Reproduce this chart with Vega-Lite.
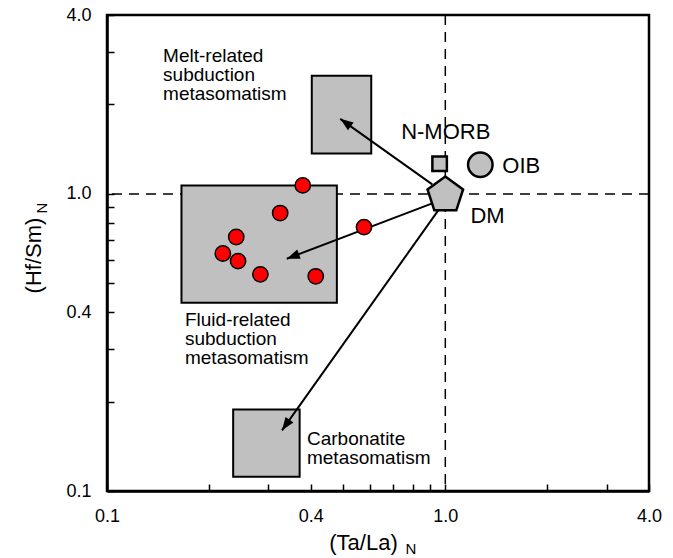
{
  "$schema": "https://vega.github.io/schema/vega-lite/v6.json",
  "width": 542,
  "height": 476,
  "autosize": "none",
  "padding": {"left": 107, "top": 15, "right": 24, "bottom": 67},
  "background": "white",
  "config": {
    "font": "Liberation Sans",
    "view": {"stroke": "black", "strokeWidth": 2.5},
    "axis": {
      "grid": false,
      "domainColor": "black",
      "domainWidth": 2.5,
      "tickColor": "black",
      "tickWidth": 1.5,
      "labelFont": "Liberation Sans",
      "titleFont": "Liberation Sans",
      "labelColor": "black",
      "titleColor": "black",
      "titleFontWeight": "normal",
      "labelFontSize": 18,
      "titleFontSize": 22
    },
    "text": {"font": "Liberation Sans", "color": "black"}
  },
  "datasets": {
    "unity": [{"ratio": 1}],
    "fields": [
      {"field": "Melt-related subduction metasomatism", "x1": 0.403, "x2": 0.604, "y1": 1.368, "y2": 2.5},
      {"field": "Fluid-related subduction metasomatism", "x1": 0.166, "x2": 0.478, "y1": 0.43, "y2": 1.068},
      {"field": "Carbonatite metasomatism", "x1": 0.236, "x2": 0.371, "y1": 0.1117, "y2": 0.188}
    ],
    "trends": [
      {"trend": "melt", "x": 0.915, "y": 1.076, "x2": 0.489, "y2": 1.789},
      {"trend": "fluid", "x": 0.915, "y": 0.929, "x2": 0.34, "y2": 0.605},
      {"trend": "carbonatite", "x": 0.953, "y": 0.88, "x2": 0.329, "y2": 0.16}
    ],
    "samples": [
      {"tala": 0.379, "hfsm": 1.068},
      {"tala": 0.325, "hfsm": 0.862},
      {"tala": 0.241, "hfsm": 0.716},
      {"tala": 0.22, "hfsm": 0.63},
      {"tala": 0.244, "hfsm": 0.594},
      {"tala": 0.284, "hfsm": 0.536},
      {"tala": 0.414, "hfsm": 0.528},
      {"tala": 0.575, "hfsm": 0.773}
    ],
    "reservoirs": [
      {"name": "N-MORB", "tala": 0.962, "hfsm": 1.263},
      {"name": "OIB", "tala": 1.269, "hfsm": 1.253},
      {"name": "DM", "tala": 1.0, "hfsm": 0.99}
    ],
    "fieldLabels": [
      {"label": "Melt-related\nsubduction\nmetasomatism", "x": 0.1465, "y": 2.789},
      {"label": "Fluid-related\nsubduction\nmetasomatism", "x": 0.17, "y": 0.3586},
      {"label": "Carbonatite\nmetasomatism", "x": 0.39, "y": 0.1428}
    ],
    "reservoirLabels": [
      {"label": "N-MORB", "x": 1.003, "y": 1.525, "anchor": "center"},
      {"label": "OIB", "x": 1.474, "y": 1.172, "anchor": "left"},
      {"label": "DM", "x": 1.186, "y": 0.796, "anchor": "left"}
    ]
  },
  "resolve": {"axis": {"x": "independent", "y": "independent"}},
  "layer": [
    {
      "data": {"name": "unity"},
      "mark": {"type": "rule", "color": "black", "strokeWidth": 1.5, "strokeDash": [10, 7]},
      "encoding": {
        "y": {"field": "ratio", "type": "quantitative", "scale": {"type": "log", "domain": [0.1, 4], "nice": false}, "axis": null}
      }
    },
    {
      "data": {"name": "unity"},
      "mark": {"type": "rule", "color": "black", "strokeWidth": 1.5, "strokeDash": [10, 7]},
      "encoding": {
        "x": {"field": "ratio", "type": "quantitative", "scale": {"type": "log", "domain": [0.1, 4], "nice": false}, "axis": null}
      }
    },
    {
      "data": {"name": "fields"},
      "mark": {"type": "rect", "fill": "#c0c0c0", "stroke": "black", "strokeWidth": 2},
      "encoding": {
        "x": {
          "field": "x1", "type": "quantitative",
          "scale": {"type": "log", "domain": [0.1, 4], "nice": false},
          "axis": {
            "orient": "bottom",
            "values": [0.1, 0.2, 0.3, 0.4, 0.5, 0.6, 0.7, 0.8, 0.9, 1, 2, 3, 4],
            "labelExpr": "indexof([0.1, 0.4, 1, 4], datum.value) >= 0 ? format(datum.value, '.1f') : ''",
            "tickSize": -7,
            "labelPadding": 23,
            "labelFlush": false,
            "labelOverlap": false,
            "title": "(Ta/La)",
            "titleX": 256,
            "titleY": 58,
            "titleAlign": "center",
            "titleBaseline": "alphabetic"
          }
        },
        "x2": {"field": "x2"},
        "y": {
          "field": "y1", "type": "quantitative",
          "scale": {"type": "log", "domain": [0.1, 4], "nice": false},
          "axis": {
            "orient": "left",
            "values": [0.1, 0.2, 0.3, 0.4, 0.5, 0.6, 0.7, 0.8, 0.9, 1, 2, 3, 4],
            "labelExpr": "indexof([0.1, 0.4, 1, 4], datum.value) >= 0 ? format(datum.value, '.1f') : ''",
            "tickSize": -7,
            "labelPadding": 23,
            "labelFlush": false,
            "labelOverlap": false,
            "title": "(Hf/Sm)",
            "titleX": -67,
            "titleY": 240,
            "titleAngle": 270,
            "titleAlign": "center",
            "titleBaseline": "alphabetic"
          }
        },
        "y2": {"field": "y2"}
      }
    },
    {
      "data": {"name": "trends"},
      "mark": {"type": "rule", "color": "black", "strokeWidth": 2},
      "encoding": {
        "x": {"field": "x", "type": "quantitative", "scale": {"type": "log", "domain": [0.1, 4], "nice": false}, "axis": null},
        "y": {"field": "y", "type": "quantitative", "scale": {"type": "log", "domain": [0.1, 4], "nice": false}, "axis": null},
        "x2": {"field": "x2"},
        "y2": {"field": "y2"}
      }
    },
    {
      "data": {"name": "trends"},
      "transform": [{"filter": "datum.trend == 'melt'"}],
      "mark": {"type": "point", "shape": "M0,0L-0.75,2L0.75,2Z", "size": 169, "filled": true, "color": "black", "opacity": 1, "angle": 305.5},
      "encoding": {
        "x": {"field": "x2", "type": "quantitative", "scale": {"type": "log", "domain": [0.1, 4], "nice": false}, "axis": null},
        "y": {"field": "y2", "type": "quantitative", "scale": {"type": "log", "domain": [0.1, 4], "nice": false}, "axis": null}
      }
    },
    {
      "data": {"name": "trends"},
      "transform": [{"filter": "datum.trend == 'fluid'"}],
      "mark": {"type": "point", "shape": "M0,0L-0.75,2L0.75,2Z", "size": 169, "filled": true, "color": "black", "opacity": 1, "angle": 249.2},
      "encoding": {
        "x": {"field": "x2", "type": "quantitative", "scale": {"type": "log", "domain": [0.1, 4], "nice": false}, "axis": null},
        "y": {"field": "y2", "type": "quantitative", "scale": {"type": "log", "domain": [0.1, 4], "nice": false}, "axis": null}
      }
    },
    {
      "data": {"name": "trends"},
      "transform": [{"filter": "datum.trend == 'carbonatite'"}],
      "mark": {"type": "point", "shape": "M0,0L-0.75,2L0.75,2Z", "size": 169, "filled": true, "color": "black", "opacity": 1, "angle": 215.4},
      "encoding": {
        "x": {"field": "x2", "type": "quantitative", "scale": {"type": "log", "domain": [0.1, 4], "nice": false}, "axis": null},
        "y": {"field": "y2", "type": "quantitative", "scale": {"type": "log", "domain": [0.1, 4], "nice": false}, "axis": null}
      }
    },
    {
      "data": {"name": "samples"},
      "mark": {"type": "point", "shape": "circle", "size": 235, "filled": true, "fill": "#ff0000", "stroke": "black", "strokeWidth": 1.5, "opacity": 1},
      "encoding": {
        "x": {"field": "tala", "type": "quantitative", "scale": {"type": "log", "domain": [0.1, 4], "nice": false}, "axis": null},
        "y": {"field": "hfsm", "type": "quantitative", "scale": {"type": "log", "domain": [0.1, 4], "nice": false}, "axis": null}
      }
    },
    {
      "data": {"name": "reservoirs"},
      "transform": [{"filter": "datum.name == 'N-MORB'"}],
      "mark": {"type": "point", "shape": "square", "size": 210, "filled": true, "fill": "#c0c0c0", "stroke": "black", "strokeWidth": 2.5, "opacity": 1},
      "encoding": {
        "x": {"field": "tala", "type": "quantitative", "scale": {"type": "log", "domain": [0.1, 4], "nice": false}, "axis": null},
        "y": {"field": "hfsm", "type": "quantitative", "scale": {"type": "log", "domain": [0.1, 4], "nice": false}, "axis": null}
      }
    },
    {
      "data": {"name": "reservoirs"},
      "transform": [{"filter": "datum.name == 'OIB'"}],
      "mark": {"type": "point", "shape": "circle", "size": 600, "filled": true, "fill": "#c0c0c0", "stroke": "black", "strokeWidth": 2.5, "opacity": 1},
      "encoding": {
        "x": {"field": "tala", "type": "quantitative", "scale": {"type": "log", "domain": [0.1, 4], "nice": false}, "axis": null},
        "y": {"field": "hfsm", "type": "quantitative", "scale": {"type": "log", "domain": [0.1, 4], "nice": false}, "axis": null}
      }
    },
    {
      "data": {"name": "reservoirs"},
      "transform": [{"filter": "datum.name == 'DM'"}],
      "mark": {"type": "point", "shape": "M0,-1L0.951,-0.309L0.588,0.809L-0.588,0.809L-0.951,-0.309Z", "size": 1400, "filled": true, "fill": "#c0c0c0", "stroke": "black", "strokeWidth": 2.5, "opacity": 1},
      "encoding": {
        "x": {"field": "tala", "type": "quantitative", "scale": {"type": "log", "domain": [0.1, 4], "nice": false}, "axis": null},
        "y": {"field": "hfsm", "type": "quantitative", "scale": {"type": "log", "domain": [0.1, 4], "nice": false}, "axis": null}
      }
    },
    {
      "data": {"name": "fieldLabels"},
      "mark": {"type": "text", "align": "left", "baseline": "alphabetic", "fontSize": 19, "lineHeight": 19, "lineBreak": "\n"},
      "encoding": {
        "x": {"field": "x", "type": "quantitative", "scale": {"type": "log", "domain": [0.1, 4], "nice": false}, "axis": null},
        "y": {"field": "y", "type": "quantitative", "scale": {"type": "log", "domain": [0.1, 4], "nice": false}, "axis": null},
        "text": {"field": "label"}
      }
    },
    {
      "data": {"name": "reservoirLabels"},
      "transform": [{"filter": "datum.anchor == 'center'"}],
      "mark": {"type": "text", "align": "center", "baseline": "alphabetic", "fontSize": 22},
      "encoding": {
        "x": {"field": "x", "type": "quantitative", "scale": {"type": "log", "domain": [0.1, 4], "nice": false}, "axis": null},
        "y": {"field": "y", "type": "quantitative", "scale": {"type": "log", "domain": [0.1, 4], "nice": false}, "axis": null},
        "text": {"field": "label"}
      }
    },
    {
      "data": {"name": "reservoirLabels"},
      "transform": [{"filter": "datum.anchor == 'left'"}],
      "mark": {"type": "text", "align": "left", "baseline": "alphabetic", "fontSize": 22},
      "encoding": {
        "x": {"field": "x", "type": "quantitative", "scale": {"type": "log", "domain": [0.1, 4], "nice": false}, "axis": null},
        "y": {"field": "y", "type": "quantitative", "scale": {"type": "log", "domain": [0.1, 4], "nice": false}, "axis": null},
        "text": {"field": "label"}
      }
    },
    {
      "data": {"name": "unity"},
      "mark": {"type": "point", "opacity": 0},
      "encoding": {
        "x": {
          "field": "ratio", "type": "quantitative",
          "scale": {"type": "log", "domain": [0.1, 4], "nice": false},
          "axis": {
            "orient": "bottom", "domain": false, "ticks": false, "labels": false,
            "title": "N", "titleFontSize": 15, "titleX": 298, "titleY": 62,
            "titleAlign": "left", "titleBaseline": "alphabetic"
          }
        },
        "y": {
          "field": "ratio", "type": "quantitative",
          "scale": {"type": "log", "domain": [0.1, 4], "nice": false},
          "axis": {
            "orient": "left", "domain": false, "ticks": false, "labels": false,
            "title": "N", "titleFontSize": 15, "titleX": -61, "titleY": 198,
            "titleAngle": 270, "titleAlign": "left", "titleBaseline": "alphabetic"
          }
        }
      }
    }
  ]
}
